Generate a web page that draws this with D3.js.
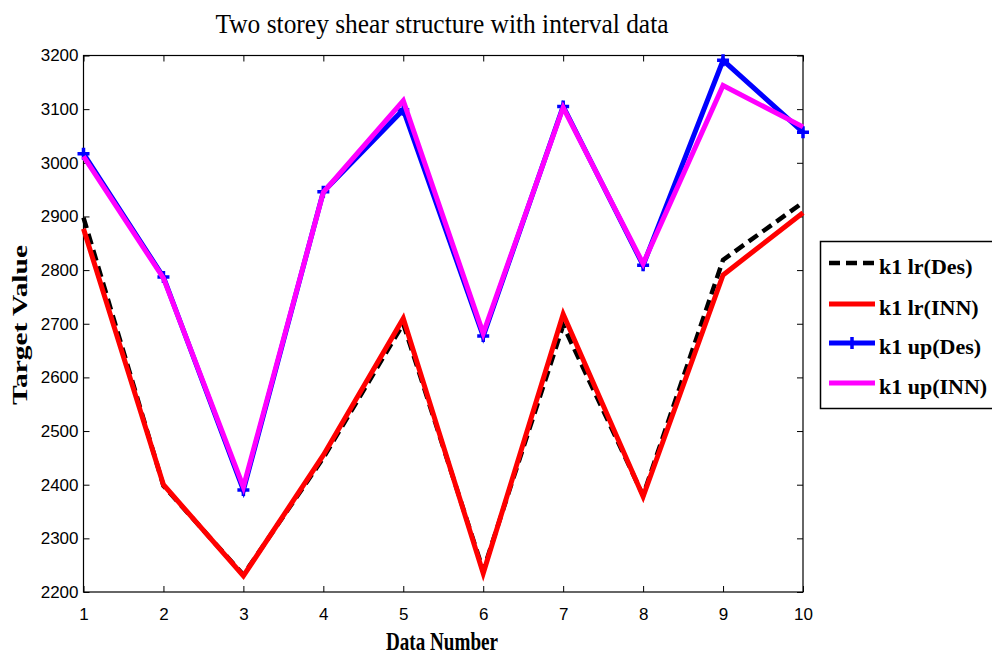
<!DOCTYPE html>
<html>
<head>
<meta charset="utf-8">
<script src="https://cdn.jsdelivr.net/npm/d3@7"></script>
<style>
  body { margin: 0; background: #fff; }
  svg { display: block; }
</style>
</head>
<body>
<div id="chart"></div>
<script>
// data
var dataNumber = [1, 2, 3, 4, 5, 6, 7, 8, 9, 10];
var k1LrDes = [2898, 2398, 2232, 2450, 2700, 2240, 2697, 2380, 2819, 2926];
var k1LrInn = [2877, 2400, 2230, 2455, 2710, 2235, 2718, 2378, 2791, 2907];
var k1UpDes = [3017, 2787, 2390, 2946, 3099, 2677, 3105, 2809, 3191, 3057];
var k1UpInn = [3012, 2785, 2396, 2945, 3116, 2682, 3103, 2812, 3144, 3067];
var yTicks = [2200, 2300, 2400, 2500, 2600, 2700, 2800, 2900, 3000, 3100, 3200];

var series = [
  { name: "k1 lr(Des)", values: k1LrDes, color: "#000000", dash: "11,6", width: 4.5 },
  { name: "k1 lr(INN)", values: k1LrInn, color: "#ff0000", dash: null, width: 5 },
  { name: "k1 up(Des)", values: k1UpDes, color: "#0000ff", dash: null, width: 5, marker: true },
  { name: "k1 up(INN)", values: k1UpInn, color: "#ff00ff", dash: null, width: 5 }
];

var svgWidth = 992;
var svgHeight = 657;
var margin = { top: 55.5, right: 189, bottom: 65, left: 83.5 };
var width = svgWidth - margin.left - margin.right;
var height = svgHeight - margin.top - margin.bottom;

var svg = d3.select("#chart")
  .append("svg")
  .attr("width", svgWidth)
  .attr("height", svgHeight);

var chartGroup = svg.append("g")
  .attr("transform", `translate(${margin.left}, ${margin.top})`);

var xScale = d3.scaleLinear().domain([1, 10]).range([0, width]);
var yScale = d3.scaleLinear().domain([2200, 3200]).range([height, 0]);

var tickFont = "'Liberation Sans Narrow', 'Arial Narrow', 'Liberation Sans', sans-serif";

// axes: ticks point inward, mirrored on top and right
function styleAxis(g) {
  g.select(".domain").remove();
  g.selectAll("line").attr("stroke", "#000").attr("stroke-width", 1);
  g.selectAll("text")
    .attr("font-family", tickFont)
    .attr("font-size", 17)
    .attr("fill", "#000");
}

chartGroup.append("g")
  .attr("transform", `translate(0, ${height})`)
  .call(d3.axisBottom(xScale).tickValues(dataNumber).tickFormat(d3.format("d"))
    .tickSizeInner(-6).tickSizeOuter(0).tickPadding(16))
  .call(styleAxis);

chartGroup.append("g")
  .call(d3.axisTop(xScale).tickValues(dataNumber).tickFormat("")
    .tickSizeInner(-6).tickSizeOuter(0))
  .call(styleAxis);

chartGroup.append("g")
  .call(d3.axisLeft(yScale).tickValues(yTicks).tickFormat(d3.format("d"))
    .tickSizeInner(-6).tickSizeOuter(0).tickPadding(5))
  .call(styleAxis);

chartGroup.append("g")
  .attr("transform", `translate(${width}, 0)`)
  .call(d3.axisRight(yScale).tickValues(yTicks).tickFormat("")
    .tickSizeInner(-6).tickSizeOuter(0))
  .call(styleAxis);

chartGroup.append("rect")
  .attr("width", width)
  .attr("height", height)
  .attr("fill", "none")
  .attr("stroke", "#000")
  .attr("stroke-width", 1.2);

// lines
var line = d3.line()
  .x((d, i) => xScale(dataNumber[i]))
  .y(d => yScale(d));

var plusPath = "M-6,0H6M0,-6V6";

series.forEach(function(s) {
  chartGroup.append("path")
    .datum(s.values)
    .attr("d", line)
    .attr("fill", "none")
    .attr("stroke", s.color)
    .attr("stroke-width", s.width)
    .attr("stroke-linejoin", "miter")
    .attr("stroke-dasharray", s.dash);

  if (s.marker) {
    chartGroup.selectAll(null)
      .data(s.values)
      .enter()
      .append("path")
      .attr("transform", (d, i) => `translate(${xScale(dataNumber[i])}, ${yScale(d)})`)
      .attr("d", plusPath)
      .attr("stroke", s.color)
      .attr("stroke-width", 3.5)
      .attr("fill", "none");
  }
});

// title and axis labels
svg.append("text")
  .attr("x", 442)
  .attr("y", 33)
  .attr("text-anchor", "middle")
  .attr("font-family", "'Liberation Serif', 'Times New Roman', serif")
  .attr("font-size", 27)
  .attr("textLength", 453)
  .attr("lengthAdjust", "spacingAndGlyphs")
  .text("Two storey shear structure with interval data");

svg.append("text")
  .attr("x", 442)
  .attr("y", 650)
  .attr("text-anchor", "middle")
  .attr("font-family", "'Liberation Serif', 'Times New Roman', serif")
  .attr("font-weight", "bold")
  .attr("font-size", 25)
  .attr("textLength", 112)
  .attr("lengthAdjust", "spacingAndGlyphs")
  .text("Data Number");

svg.append("text")
  .attr("transform", "translate(27, 325) rotate(-90)")
  .attr("text-anchor", "middle")
  .attr("font-family", "'Liberation Serif', 'Times New Roman', serif")
  .attr("font-weight", "bold")
  .attr("font-size", 20)
  .attr("textLength", 160)
  .attr("lengthAdjust", "spacingAndGlyphs")
  .text("Target Value");

// legend
var legend = svg.append("g");

legend.append("rect")
  .attr("x", 820.5)
  .attr("y", 241.5)
  .attr("width", 190)
  .attr("height", 167)
  .attr("fill", "#fff")
  .attr("stroke", "#000")
  .attr("stroke-width", 1.5);

var legendY = [263, 304, 343, 383];

series.forEach(function(s, i) {
  var y = legendY[i];
  legend.append("line")
    .attr("x1", 829).attr("x2", 875)
    .attr("y1", y).attr("y2", y)
    .attr("stroke", s.color)
    .attr("stroke-width", s.width)
    .attr("stroke-dasharray", s.dash);
  if (s.marker) {
    legend.append("path")
      .attr("transform", `translate(852, ${y})`)
      .attr("d", plusPath)
      .attr("stroke", s.color)
      .attr("stroke-width", 3.5);
  }
  legend.append("text")
    .attr("x", 879)
    .attr("y", y + 11)
    .attr("font-family", "'Liberation Serif', 'Times New Roman', serif")
    .attr("font-weight", "bold")
    .attr("font-size", 22)
    .text(s.name);
});
</script>
</body>
</html>
